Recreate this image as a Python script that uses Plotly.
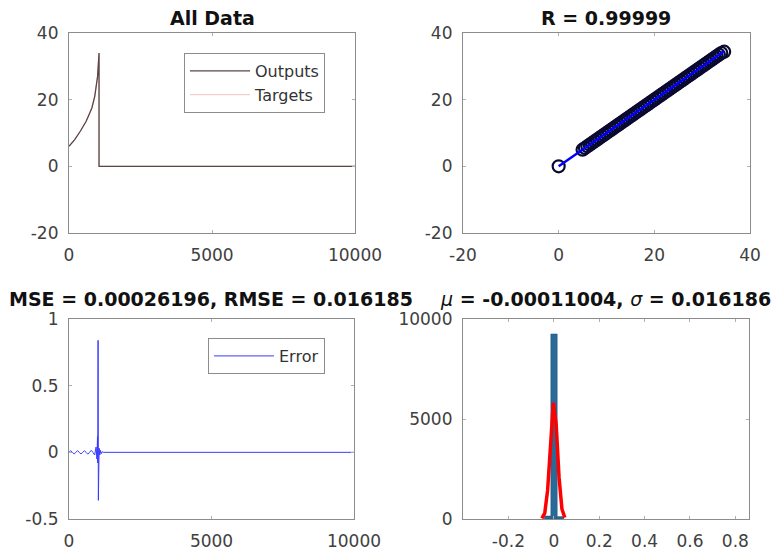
import plotly.graph_objects as go

# ---------------- data ----------------
# Panel 1: All Data (outputs vs targets over sample index)
sample_idx = [0, 200, 400, 600, 800, 900, 1000, 1050, 1050, 10000]
outputs_all = [6.0, 8.0, 10.6, 13.5, 17.5, 21.0, 27.0, 34.0, 0.0, 0.0]
targets_all = [6.0, 8.0, 10.6, 13.5, 17.5, 21.0, 27.0, 34.0, 0.0, 0.0]

# Panel 2: regression (targets vs outputs)
reg_targets = [0, 5.0, 5.5, 6.0, 6.5, 7.0, 7.5, 8.0, 8.5, 9.0, 9.5, 10.0, 10.5, 11.0,
               11.5, 12.0, 12.5, 13.0, 13.5, 14.0, 14.5, 15.0, 15.5, 16.0, 16.5, 17.0,
               17.5, 18.0, 18.5, 19.0, 19.5, 20.0, 20.5, 21.0, 21.5, 22.0, 22.5, 23.0,
               23.5, 24.0, 24.5, 25.0, 25.5, 26.0, 26.5, 27.0, 27.5, 28.0, 28.5, 29.0,
               29.5, 30.0, 30.5, 31.0, 31.5, 32.0, 32.5, 33.0, 33.5, 34.0, 34.6]
reg_outputs = [0, 5.0, 5.5, 6.0, 6.5, 7.0, 7.5, 8.0, 8.5, 9.0, 9.5, 10.0, 10.5, 11.0,
               11.5, 12.0, 12.5, 13.0, 13.5, 14.0, 14.5, 15.0, 15.5, 16.0, 16.5, 17.0,
               17.5, 18.0, 18.5, 19.0, 19.5, 20.0, 20.5, 21.0, 21.5, 22.0, 22.5, 23.0,
               23.5, 24.0, 24.5, 25.0, 25.5, 26.0, 26.5, 27.0, 27.5, 28.0, 28.5, 29.0,
               29.5, 30.0, 30.5, 31.0, 31.5, 32.0, 32.5, 33.0, 33.5, 34.0, 34.4]
fit_x = [0.0, 34.6]
fit_y = [0.0, 34.5]

# Panel 3: error over sample index
err_idx = [0, 60, 120, 180, 240, 300, 360, 420, 480, 540, 600, 660, 720, 780, 840,
           900, 950, 980, 1000, 1010, 1020, 1030, 1040, 1050, 1060, 1080, 1100,
           1130, 1160, 1200, 10000]
err_val = [0.0, 0.012, 0.0, -0.012, 0.0, 0.012, 0.0, -0.012, 0.0, 0.012, 0.0, -0.014,
           0.0, 0.015, 0.0, -0.02, 0.04, -0.05, 0.12, -0.08, 0.84, -0.36, 0.06, -0.06,
           0.03, -0.02, 0.015, -0.01, 0.005, 0.0, 0.0]

# Panel 4: error histogram + normal fit
hist_centers = [-0.027, 0.001, 0.029]
hist_counts = [150, 9250, 120]
hist_width = [0.028, 0.028, 0.028]
fit_curve_x = [-0.0525, -0.0398, -0.0272, -0.0146, -0.0020, 0.0106, 0.0232, 0.0358, 0.0484]
fit_curve_y = [30, 290, 1440, 3920, 5810, 4700, 2080, 500, 70]

# tick labels
ticks_idx = [0, 5000, 10000]
ticks_idx_text = ["0", "5000", "10000"]
ticks_20 = [-20, 0, 20, 40]
ticks_20_text = ["-20", "0", "20", "40"]
ticks_err = [-0.5, 0, 0.5, 1]
ticks_err_text = ["-0.5", "0", "0.5", "1"]
ticks_hist_x = [-0.2, 0, 0.2, 0.4, 0.6, 0.8]
ticks_hist_x_text = ["-0.2", "0", "0.2", "0.4", "0.6", "0.8"]

# ---------------- figure ----------------
W, H = 773, 550
fig = go.Figure()

fig.add_trace(go.Scatter(x=sample_idx, y=targets_all, mode="lines", name="Targets",
                         line=dict(color="#f0c4c4", width=1), xaxis="x", yaxis="y",
                         legend="legend"))
fig.add_trace(go.Scatter(x=sample_idx, y=outputs_all, mode="lines", name="Outputs",
                         line=dict(color="#5a4444", width=1.3), xaxis="x", yaxis="y",
                         legend="legend"))

fig.add_trace(go.Scatter(x=reg_targets, y=reg_outputs, mode="markers", name="Data",
                         marker=dict(symbol="circle-open", size=12, color="#0a0a30",
                                     line=dict(width=2.2)),
                         xaxis="x2", yaxis="y2", showlegend=False))
fig.add_trace(go.Scatter(x=fit_x, y=fit_y, mode="lines", name="Fit",
                         line=dict(color="#0000ff", width=2.5),
                         xaxis="x2", yaxis="y2", showlegend=False))

fig.add_trace(go.Scatter(x=err_idx, y=err_val, mode="lines", name="Error",
                         line=dict(color="#3a3aff", width=1), xaxis="x3", yaxis="y3",
                         legend="legend2"))

fig.add_trace(go.Bar(x=hist_centers, y=hist_counts, width=hist_width, name="Histogram",
                     marker=dict(color="#2a6a99", line=dict(color="#1d4f75", width=0.5)),
                     xaxis="x4", yaxis="y4", showlegend=False))
fig.add_trace(go.Scatter(x=fit_curve_x, y=fit_curve_y, mode="lines", name="Normal fit",
                         line=dict(color="#ff0000", width=3.5),
                         xaxis="x4", yaxis="y4", showlegend=False))

def px_x(a, b):
    return [a / W, b / W]

def px_y(top, bottom):
    return [1 - bottom / H, 1 - top / H]

tick_font = dict(family="DejaVu Sans", size=17, color="#404040")
axis_common = dict(showline=True, linecolor="#8c8c8c", linewidth=1.2, mirror="ticks",
                   ticks="inside", ticklen=3, tickcolor="#b0b0b0", showgrid=False,
                   zeroline=False, tickfont=tick_font, ticklabelstandoff=6,
                   automargin=False)

fig.update_layout(
    width=W, height=H,
    margin=dict(l=0, r=0, t=0, b=0, autoexpand=False),
    paper_bgcolor="white", plot_bgcolor="white",
    showlegend=True,
    xaxis=dict(domain=px_x(69, 355), range=[0, 10000], tickvals=ticks_idx,
               ticktext=ticks_idx_text, anchor="y", **axis_common),
    yaxis=dict(domain=px_y(33, 233), range=[-20, 40], tickvals=ticks_20,
               ticktext=ticks_20_text, anchor="x", **axis_common),
    xaxis2=dict(domain=px_x(463, 750), range=[-20, 40], tickvals=ticks_20,
                ticktext=ticks_20_text, anchor="y2", **axis_common),
    yaxis2=dict(domain=px_y(33, 233), range=[-20, 40], tickvals=ticks_20,
                ticktext=ticks_20_text, anchor="x2", **axis_common),
    xaxis3=dict(domain=px_x(69, 354), range=[0, 10000], tickvals=ticks_idx,
                ticktext=ticks_idx_text, anchor="y3", **axis_common),
    yaxis3=dict(domain=px_y(319, 519), range=[-0.5, 1], tickvals=ticks_err,
                ticktext=ticks_err_text, anchor="x3", **axis_common),
    xaxis4=dict(domain=px_x(463, 749), range=[-0.40, 0.86], tickvals=ticks_hist_x,
                ticktext=ticks_hist_x_text, anchor="y4", **axis_common),
    yaxis4=dict(domain=px_y(319, 519), range=[0, 10000], tickvals=ticks_idx,
                ticktext=ticks_idx_text, anchor="x4", **axis_common),
    legend=dict(x=184 / W, y=1 - 53 / H, xanchor="left", yanchor="top",
                bgcolor="white", bordercolor="#8c8c8c", borderwidth=1,
                font=dict(family="DejaVu Sans", size=16, color="#333333"),
                traceorder="reversed", itemwidth=60),
    legend2=dict(x=208 / W, y=1 - 338 / H, xanchor="left", yanchor="top",
                 bgcolor="white", bordercolor="#8c8c8c", borderwidth=1,
                 font=dict(family="DejaVu Sans", size=16, color="#333333"),
                 itemwidth=60),
)

title_font = dict(family="DejaVu Sans", size=19, color="#111111")
titles = [
    ("<b>All Data</b>", 212, 18),
    ("<b>R = 0.99999</b>", 606, 18),
    ("<b>MSE = 0.00026196, RMSE = 0.016185</b>", 211, 299),
    ("<i>μ</i><b> = -0.00011004, </b><i>σ</i><b> = 0.016186</b>", 605, 299),
]
for text, cx, cy in titles:
    fig.add_annotation(text=text, x=cx / W, y=1 - cy / H, xref="paper", yref="paper",
                       showarrow=False, xanchor="center", yanchor="middle",
                       font=title_font)

fig.write_html("out.html", config={"displayModeBar": False},
               post_script="document.body.style.margin='0';")
